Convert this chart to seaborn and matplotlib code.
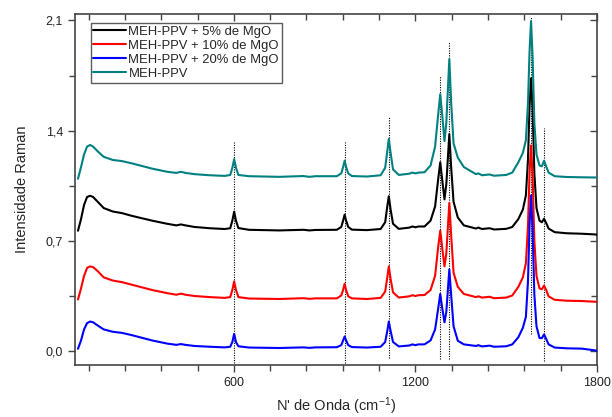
"""
Raman spectra of MEH-PPV and MEH-PPV/MgO composites (stacked, offset traces).
Values read off the reference figure.
"""
import matplotlib
matplotlib.use("Agg")
import matplotlib.pyplot as plt
from matplotlib.ticker import MultipleLocator, FuncFormatter
import pandas as pd
import seaborn as sns

# ── Data ───────────────────────────────────────────────────────────────────────
WAVENUMBER = [85, 95, 105, 115, 125, 135, 150, 170, 200, 230, 260, 290, 330,
              380, 410, 425, 440, 470, 520, 570, 588, 595, 601, 607, 615, 650,
              750, 830, 850, 870, 940, 955, 961, 966, 971, 978, 990, 1040,
              1085, 1100, 1107, 1112, 1118, 1126, 1145, 1180, 1190, 1200, 1210,
              1230, 1250, 1265, 1275, 1282, 1289, 1296, 1302, 1312, 1318, 1326,
              1340, 1360, 1400, 1408, 1420, 1445, 1460, 1500, 1520, 1540, 1555,
              1565, 1572, 1577, 1582, 1587, 1593, 1600, 1610, 1618, 1625, 1632,
              1640, 1660, 1700, 1750, 1790, 1800]

MGO_5 = [0.766, 0.84, 0.93, 0.98, 0.988, 0.98, 0.95, 0.91, 0.888, 0.878, 0.862,
         0.848, 0.83, 0.81, 0.80, 0.806, 0.80, 0.79, 0.782, 0.777, 0.782, 0.83,
         0.887, 0.83, 0.783, 0.772, 0.768, 0.772, 0.768, 0.771, 0.772, 0.79,
         0.83, 0.868, 0.83, 0.79, 0.773, 0.77, 0.777, 0.82, 0.92, 0.985, 0.90,
         0.81, 0.778, 0.786, 0.793, 0.788, 0.793, 0.793, 0.83, 0.92, 1.09, 1.20,
         1.08, 0.965, 1.06, 1.379, 1.17, 0.95, 0.85, 0.80, 0.78, 0.786, 0.777,
         0.782, 0.774, 0.778, 0.79, 0.84, 0.90, 0.99, 1.22, 1.55, 1.733, 1.55,
         1.13, 0.91, 0.83, 0.82, 0.842, 0.815, 0.78, 0.757, 0.75, 0.747, 0.743,
         0.741]

MGO_10 = [0.33, 0.40, 0.48, 0.53, 0.54, 0.535, 0.51, 0.47, 0.45, 0.44, 0.425,
          0.41, 0.39, 0.37, 0.36, 0.367, 0.36, 0.352, 0.345, 0.34, 0.345, 0.39,
          0.445, 0.39, 0.345, 0.336, 0.333, 0.338, 0.334, 0.337, 0.337, 0.355,
          0.39, 0.43, 0.39, 0.35, 0.337, 0.333, 0.34, 0.38, 0.47, 0.54, 0.46,
          0.375, 0.342, 0.35, 0.357, 0.352, 0.357, 0.358, 0.39, 0.48, 0.66,
          0.766, 0.65, 0.54, 0.62, 0.942, 0.74, 0.50, 0.41, 0.365, 0.345, 0.35,
          0.342, 0.347, 0.338, 0.342, 0.355, 0.41, 0.47, 0.56, 0.80, 1.13,
          1.307, 1.12, 0.70, 0.48, 0.40, 0.395, 0.418, 0.39, 0.35, 0.328,
          0.322, 0.32, 0.316, 0.315]

MGO_20 = [0.017, 0.07, 0.14, 0.18, 0.19, 0.185, 0.165, 0.14, 0.125, 0.118,
          0.105, 0.09, 0.07, 0.05, 0.042, 0.047, 0.042, 0.035, 0.03, 0.026,
          0.03, 0.06, 0.112, 0.06, 0.033, 0.025, 0.022, 0.026, 0.023, 0.026,
          0.027, 0.04, 0.07, 0.095, 0.07, 0.04, 0.028, 0.025, 0.03, 0.06, 0.13,
          0.19, 0.13, 0.06, 0.032, 0.038, 0.045, 0.04, 0.045, 0.045, 0.07, 0.14,
          0.27, 0.365, 0.27, 0.185, 0.25, 0.52, 0.36, 0.16, 0.068, 0.045, 0.035,
          0.04, 0.032, 0.037, 0.03, 0.033, 0.045, 0.09, 0.15, 0.22, 0.45, 0.80,
          0.99, 0.78, 0.36, 0.16, 0.085, 0.085, 0.108, 0.08, 0.045, 0.025, 0.02,
          0.018, 0.008, 0.004]

MEH_PPV = [1.096, 1.17, 1.25, 1.30, 1.31, 1.30, 1.27, 1.235, 1.215, 1.208,
           1.195, 1.18, 1.16, 1.14, 1.133, 1.14, 1.133, 1.125, 1.118, 1.114,
           1.12, 1.165, 1.22, 1.165, 1.12, 1.112, 1.108, 1.113, 1.108, 1.112,
           1.112, 1.13, 1.17, 1.21, 1.17, 1.13, 1.113, 1.11, 1.118, 1.165, 1.27,
           1.349, 1.26, 1.155, 1.12, 1.128, 1.135, 1.13, 1.135, 1.137, 1.18, 1.30,
           1.50, 1.632, 1.49, 1.335, 1.45, 1.854, 1.58, 1.32, 1.23, 1.17, 1.125,
           1.13, 1.118, 1.123, 1.115, 1.12, 1.135, 1.20, 1.26, 1.34, 1.58, 1.90,
           2.096, 1.88, 1.45, 1.25, 1.18, 1.175, 1.21, 1.175, 1.135, 1.112,
           1.107, 1.105, 1.104, 1.104]

LABELS = ["MEH-PPV + 5% de MgO", "MEH-PPV + 10% de MgO",
          "MEH-PPV + 20% de MgO", "MEH-PPV"]
COLOURS = ["#000000", "#FF0000", "#0000FF", "#008080"]

# dotted guide lines at the band positions (x, bottom, top)
BAND_X   = [601, 966, 1112, 1282, 1312, 1582, 1625]
BAND_LOW = [-0.07, -0.07, -0.04, -0.046, -0.05, 0.11, -0.06]
BAND_TOP = [1.33, 1.33, 1.49, 1.75, 1.965, 2.12, 1.416]

# ── Long table for seaborn ─────────────────────────────────────────────────────
frames = []
for label, values in zip(LABELS, [MGO_5, MGO_10, MGO_20, MEH_PPV]):
    frames.append(pd.DataFrame({"x": WAVENUMBER, "y": values, "amostra": label}))
df = pd.concat(frames, ignore_index=True)

# ── Plot ───────────────────────────────────────────────────────────────────────
sns.set_style("ticks")
plt.rcParams["font.family"] = ["Liberation Sans", "DejaVu Sans"]
plt.rcParams["mathtext.fontset"] = "custom"
plt.rcParams["mathtext.rm"] = "Liberation Sans"
plt.rcParams["mathtext.default"] = "rm"

fig = plt.figure(figsize=(6.12, 4.17), dpi=100)
ax = fig.add_axes([0.1225, 0.125, 0.853, 0.841])

ax.vlines(BAND_X, BAND_LOW, BAND_TOP, colors="black", linestyles=(0, (1, 1.2)),
          linewidth=0.8, zorder=1)

sns.lineplot(data=df, x="x", y="y", hue="amostra", hue_order=LABELS,
             palette=dict(zip(LABELS, COLOURS)), sort=False, estimator=None,
             linewidth=1.5, ax=ax, zorder=3)

ax.set_xlim(75, 1800)
ax.set_ylim(-0.085, 2.14)

comma = FuncFormatter(lambda v, _: f"{v:.1f}".replace(".", ","))
ax.xaxis.set_major_locator(MultipleLocator(600))
ax.xaxis.set_minor_locator(MultipleLocator(120))
ax.yaxis.set_major_locator(MultipleLocator(0.7))
ax.yaxis.set_minor_locator(MultipleLocator(0.35))
ax.yaxis.set_major_formatter(comma)
ax.tick_params(which="both", direction="out", colors="#444444",
               labelcolor="#222222", labelsize=9, width=1.0)
ax.tick_params(which="major", length=5)
ax.tick_params(which="minor", length=4)

# mirrored inward ticks on top and right
top = ax.secondary_xaxis("top")
top.xaxis.set_major_locator(MultipleLocator(600))
top.xaxis.set_minor_locator(MultipleLocator(120))
top.tick_params(which="both", direction="in", labeltop=False, colors="#444444",
                width=1.0)
top.tick_params(which="major", length=5)
top.tick_params(which="minor", length=4)
top.spines["top"].set_visible(False)
right = ax.secondary_yaxis("right")
right.yaxis.set_major_locator(MultipleLocator(0.7))
right.yaxis.set_minor_locator(MultipleLocator(0.35))
right.tick_params(which="both", direction="in", labelright=False,
                  colors="#444444", width=1.0)
right.tick_params(which="major", length=5)
right.tick_params(which="minor", length=4)
right.spines["right"].set_visible(False)

for spine in ax.spines.values():
    spine.set_visible(True)
    spine.set_color("#444444")
    spine.set_linewidth(1.2)

ax.set_xlabel("N' de Onda (cm$^{-1}$)", fontsize=10.5, labelpad=5)
ax.set_ylabel("Intensidade Raman", fontsize=10.5, labelpad=12)

leg = ax.legend(loc="upper left", bbox_to_anchor=(0.03, 0.975), fontsize=9.4,
                frameon=True, fancybox=False, edgecolor="#333333",
                handlelength=2.5, handletextpad=0.2, labelspacing=0.15,
                borderpad=0.2, borderaxespad=0.0, title=None)
leg.get_frame().set_linewidth(1.0)

fig.savefig("out.png", dpi=100)
